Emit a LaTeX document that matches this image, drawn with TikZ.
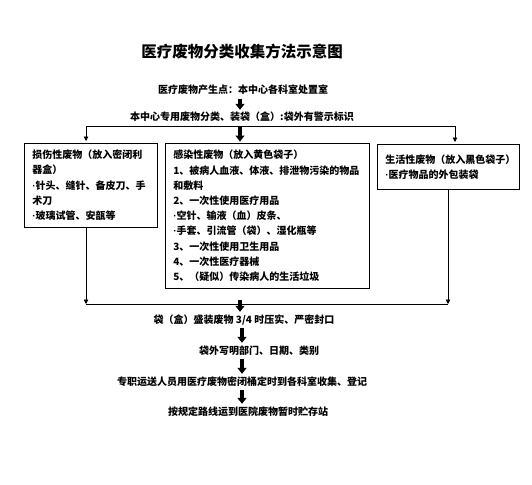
\documentclass[tikz,border=0pt]{standalone}
\usepackage{fontspec}
\setmainfont{Noto Sans CJK SC}
\newfontfamily\latinfont{Liberation Sans}
\newcommand{\mdot}{{\latinfont\bfseries ·}}
\usetikzlibrary{arrows.meta}
\begin{document}
\begin{tikzpicture}[x=1pt,y=-1pt,
  every node/.style={font=\bfseries\fontsize{10}{15.2}\selectfont, inner sep=0pt},
  txt/.style={text height=8pt,text depth=2pt},
  box/.style={draw, line width=0.7pt, anchor=north west, align=left, inner xsep=8pt, inner ysep=0pt},
  conn/.style={line width=0.6pt},
  tip/.style={conn, -{Triangle[width=4.5pt,length=4.5pt]}},
  bigarrow/.style={line width=3.4pt, -{Triangle[width=9pt,length=6pt]}, shorten <=2.5pt, shorten >=3pt}]
\useasboundingbox (0,0) rectangle (532,484);
\node[font=\bfseries\fontsize{15.5}{18}\selectfont] (title) at (242,52) {医疗废物分类收集方法示意图};
\node[txt] (l1) at (243,91) {医疗废物产生点：本中心各科室处置室};
\node[txt] (l2) at (242,118) {本中心专用废物分类、装袋（盒）:袋外有警示标识};
\coordinate (sl) at (86,126);
\coordinate (sm) at (240,126);
\coordinate (sr) at (455,126);
\coordinate (ax) at (242,0);
\node[box, text width=117pt, minimum height=84pt] (lbox) at (24,143)
 {损伤性废物（放入密闭利\\器盒）\\\mdot 针头、缝针、备皮刀、手\\术刀\\\mdot 玻璃试管、安瓿等};
\node[box, text width=188pt, minimum height=145pt] (mbox) at (165,143)
 {感染性废物（放入黄色袋子）\\1、被病人血液、体液、排泄物污染的物品\\和敷料\\2、一次性使用医疗用品\\\mdot 空针、输液（血）皮条、\\\mdot 手套、引流管（袋）、湿化瓶等\\3、一次性使用卫生用品\\4、一次性医疗器械\\5、（疑似）传染病人的生活垃圾};
\node[box, text width=126pt, minimum height=45pt] (rbox) at (377,144)
 {生活性废物（放入黑色袋子）\\\mdot 医疗物品的外包装袋};
\coordinate (bl) at (86,304);
\coordinate (bm) at (240,304);
\coordinate (br) at (448,304);
\node[txt] (l3) at (244,320) {袋（盒）盛装废物 3/4 时压实、严密封口};
\node[txt] (l4) at (259,351) {袋外写明部门、日期、类别};
\node[txt] (l5) at (242,382) {专职运送人员用医疗废物密闭桶定时到各科室收集、登记};
\node[txt] (l6) at (248,412) {按规定路线运到医院废物暂时贮存站};
% top
\draw[bigarrow] (l1.south -| sm) -- (l2.north -| sm);
\draw[tip, shorten >=2pt] (sr) -- (sl) -- (sl |- lbox.north);
\draw[tip, shorten >=2pt] (sr) -- (sr |- rbox.north);
\draw[bigarrow, shorten <=0pt, shorten >=1.5pt] (sm) -- (sm |- mbox.north);
% bottom
\draw[tip] (lbox.south -| bl) -- (bl);
\draw[tip] (rbox.south -| br) -- (br);
\draw[conn] (bl) -- (br);
\draw[bigarrow, shorten <=-4pt, shorten >=3pt] (bm) -- (l3.north -| bm);
\draw[bigarrow] (l3.south -| ax) -- (l4.north -| ax);
\draw[bigarrow] (l4.south -| ax) -- (l5.north -| ax);
\draw[bigarrow] (l5.south -| ax) -- (l6.north -| ax);
\end{tikzpicture}
\end{document}
